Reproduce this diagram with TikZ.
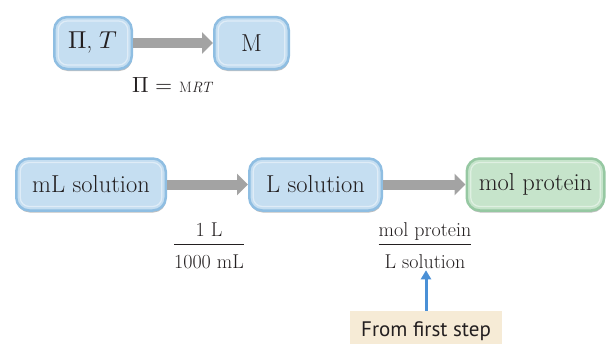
\documentclass[tikz,border=0pt]{standalone}
\usepackage{unicode-math}
\setmainfont{Latin Modern Roman}
\setmathfont{Latin Modern Math}
\newfontfamily\hintfont{PT Sans}
\usetikzlibrary{arrows.meta,shadows}
\definecolor{boxfill}{RGB}{197,222,241}
\definecolor{boxrim}{RGB}{143,190,226}
\definecolor{greenfill}{RGB}{198,228,203}
\definecolor{greenrim}{RGB}{150,200,162}
\definecolor{flowgray}{RGB}{163,163,163}
\definecolor{hintblue}{RGB}{74,144,214}
\definecolor{hintfill}{RGB}{246,235,214}
\definecolor{inktext}{RGB}{35,31,32}
\tikzset{
  stepbox/.style={rectangle,rounded corners=13pt,fill=boxfill,draw=boxrim,line width=2.5pt,
    text=inktext,font=\fontsize{24.5}{28}\selectfont,inner sep=0pt,minimum height=52pt,
    drop shadow={shadow xshift=0.5pt,shadow yshift=-2pt,opacity=0.25,fill=black},
    path picture={\draw[white,opacity=0.45,line width=1.2pt,rounded corners=9pt]
      ([xshift=4pt,yshift=-4pt]path picture bounding box.north west) rectangle
      ([xshift=-4pt,yshift=4pt]path picture bounding box.south east);}},
  endbox/.style={stepbox,fill=greenfill,draw=greenrim},
  flow/.style={flowgray,line width=10pt,-{Triangle[length=11pt,width=21pt]}},
  ratio/.style={inner sep=0pt,text=inktext,font=\fontsize{20}{24}\selectfont},
  hint/.style={hintblue,line width=3pt,-{Triangle[length=9pt,width=10pt]}},
  hintbox/.style={fill=hintfill,inner sep=0pt,text=inktext,font=\hintfont\fontsize{21}{24}\selectfont}
}
\setlength{\arrayrulewidth}{0.9pt}
\begin{document}
\begin{tikzpicture}[x=1pt,y=-1pt]
  \useasboundingbox (0,0) rectangle (607,343);
  % first step: osmotic pressure to molarity
  \node[stepbox,minimum width=77.5pt] (pt) at (93,43) {$\Pi$, $T$};
  \node[stepbox,minimum width=74.5pt] (m) at (251.5,43) {M};
  \draw[flow] (pt.east) -- (m.west);
  \node[text=inktext,font=\fontsize{22}{26}\selectfont] (vanthoff) at (173,85)
    {$\Pi =$ {\fontsize{15}{18}\selectfont M\textit{RT}}};
  % second step: volume to moles
  \node[stepbox,minimum width=149.5pt] (ml) at (91,184.5) {mL solution};
  \node[stepbox,minimum width=132.5pt] (l) at (315.5,184.5) {L solution};
  \node[endbox,minimum width=137.5pt] (mol) at (535.5,184.5) {mol protein};
  \draw[flow] (ml.east) -- (l.west);
  \draw[flow] (l.east) -- (mol.west);
  \node[ratio] (fracA) at (209,248)
    {\begin{tabular}{@{}c@{}}1 L\\\hline\rule{0pt}{24pt}1000 mL\end{tabular}};
  \node[ratio] (fracB) at (425,248)
    {\begin{tabular}{@{}c@{}}mol protein\\\hline\rule{0pt}{24pt}L solution\end{tabular}};
  \node[hintbox,minimum width=152pt,minimum height=40pt] (first) at (426,331) {From first step};
  \coordinate (tipB) at ([yshift=6pt]fracB.south);
  \draw[hint] (first.north) -- (first.north |- tipB);
\end{tikzpicture}
\end{document}
